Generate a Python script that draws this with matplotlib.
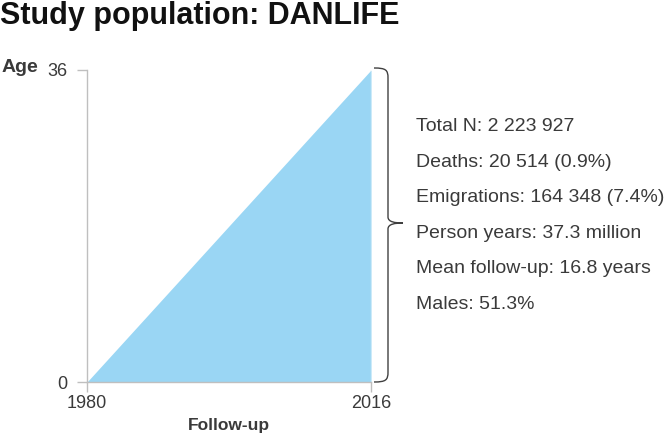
import matplotlib
matplotlib.use("Agg")
import matplotlib.pyplot as plt
from matplotlib.path import Path
from matplotlib.patches import PathPatch

plt.rcParams['font.family'] = ['Liberation Sans', 'DejaVu Sans']

title = "Study population: DANLIFE"
years = [1980, 2016]
ages = [0, 36]
stats = [
    "Total N: 2 223 927",
    "Deaths: 20 514 (0.9%)",
    "Emigrations: 164 348 (7.4%)",
    "Person years: 37.3 million",
    "Mean follow-up: 16.8 years",
    "Males: 51.3%",
]

W, H = 669, 436
fig = plt.figure(figsize=(W / 100, H / 100), dpi=100)
ax = fig.add_axes([87 / W, (H - 382) / H, 284 / W, 312 / H])

fill_col = '#9AD6F4'
grey = '#BFBFBF'
txt = '#3A3A3A'

ax.fill_between(years, 0, ages, color=fill_col, linewidth=0)
ax.set_xlim(years[0], years[1])
ax.set_ylim(ages[0], ages[1])
ax.set_xticks(years)
ax.set_yticks(ages)
ax.set_xticklabels([str(y) for y in years])
ax.set_yticklabels([str(a) for a in ages])
for s in ['top', 'right']:
    ax.spines[s].set_visible(False)
for s in ['left', 'bottom']:
    ax.spines[s].set_color(grey)
    ax.spines[s].set_linewidth(1.0)
ax.tick_params(axis='both', colors=grey, labelcolor=txt, labelsize=13,
               length=7, width=1.0, direction='out')
ax.tick_params(axis='y', pad=7)
ax.tick_params(axis='x', pad=2)
ax.axvline(years[1], color='#CFE6F2', lw=1.0)

fig.text(229 / W, 1 - 425 / H, "Follow-up", fontsize=12.5, fontweight='bold',
         color=txt, ha='center', va='center')
fig.text(0 / W, 1 - 1 / H, title, fontsize=22, fontweight='bold',
         color='#111111', ha='left', va='top')
fig.text(2 / W, 1 - 68 / H, "Age", fontsize=14, fontweight='bold',
         color=txt, ha='left', va='center')

# brace
def P(x, y):
    return (x / W, 1 - y / H)

top, bot, mid = 68, 382, 223
xe, xv, xt = 374, 388, 403
verts = [P(xe, top), P(xv - 2, top), P(xv, top + 2), P(xv, top + 10),
         P(xv, mid - 6),
         P(xv, mid - 1), P(xt - 8, mid), P(xt, mid),
         P(xt - 8, mid), P(xv, mid + 1), P(xv, mid + 6),
         P(xv, bot - 10),
         P(xv, bot - 2), P(xv - 2, bot), P(xe, bot)]
codes = [Path.MOVETO, Path.CURVE4, Path.CURVE4, Path.CURVE4,
         Path.LINETO,
         Path.CURVE4, Path.CURVE4, Path.CURVE4,
         Path.CURVE4, Path.CURVE4, Path.CURVE4,
         Path.LINETO,
         Path.CURVE4, Path.CURVE4, Path.CURVE4]
fig.add_artist(PathPatch(Path(verts, codes), transform=fig.transFigure,
                         fill=False, edgecolor='#404040', lw=1.0))

for i, s in enumerate(stats):
    fig.text(416 / W, 1 - (131 + 35.6 * i) / H, s, fontsize=14, color=txt,
             ha='left', va='baseline')

fig.savefig("out.png", dpi=100)
